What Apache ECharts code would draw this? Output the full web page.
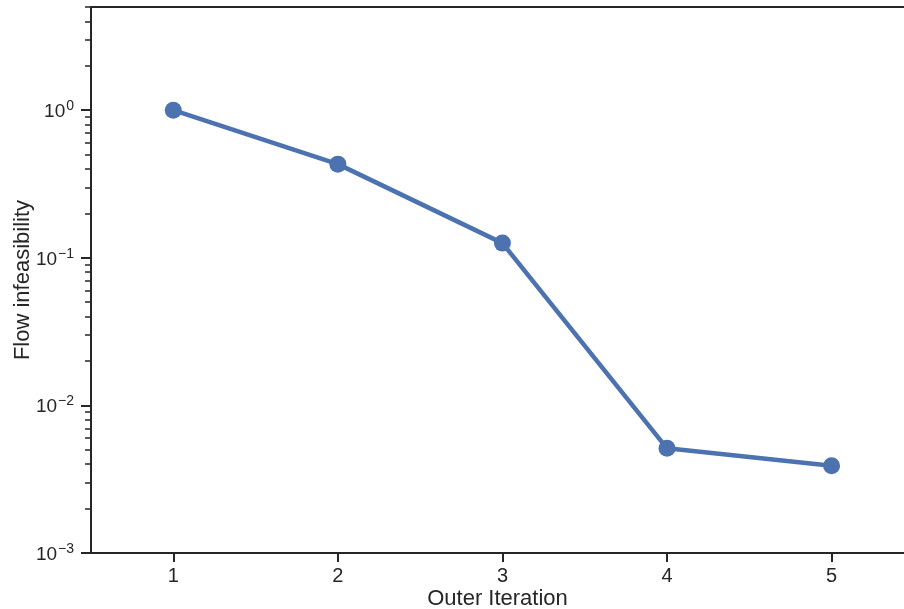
<!DOCTYPE html>
<html>
<head>
<meta charset="utf-8">
<script src="https://cdn.jsdelivr.net/npm/echarts@6/dist/echarts.min.js"></script>
<style>
html,body{margin:0;padding:0;background:#fff;}
#chart{width:904px;height:609px;}
</style>
</head>
<body>
<div id="chart"></div>
<script>
const iterations = [1, 2, 3, 4, 5];
const infeasibility = [1.0, 0.431, 0.1257, 0.00512, 0.0039];
const majorTicks = [0.001, 0.01, 0.1, 1];
const minorTicks = [
  0.002, 0.003, 0.004, 0.005, 0.006, 0.007, 0.008, 0.009,
  0.02, 0.03, 0.04, 0.05, 0.06, 0.07, 0.08, 0.09,
  0.2, 0.3, 0.4, 0.5, 0.6, 0.7, 0.8, 0.9,
  2, 3, 4, 5
];
const xTicks = [1, 2, 3, 4, 5];
const xLabel = 'Outer Iteration';
const yLabel = 'Flow infeasibility';

const FONT = '"Liberation Sans", Arial, sans-serif';
const INK = '#262626';
const BLUE = '#4c72b0';

function powLabel(v) {
  const e = Math.round(Math.log10(v));
  const s = e < 0 ? '\u2212' + (-e) : String(e);
  return '{base|10}{sup|' + s + '}';
}

const chart = echarts.init(document.getElementById('chart'), null, {renderer: 'canvas'});
chart.setOption({
  animation: false,
  backgroundColor: '#fff',
  grid: {left: 91, right: 0, top: 7, bottom: 56, containLabel: false, outerBoundsMode: 'none'},
  xAxis: [{
    type: 'value', min: 0.5, max: 5.44, position: 'bottom',
    name: xLabel, nameLocation: 'middle', nameGap: 35, nameMoveOverlap: false,
    nameTextStyle: {fontFamily: FONT, fontSize: 22, color: INK},
    axisLine: {show: true, onZero: false, lineStyle: {color: INK, width: 2}},
    axisTick: {show: true, length: 9, lineStyle: {color: INK, width: 2}, customValues: xTicks},
    axisLabel: {fontFamily: FONT, fontSize: 20, color: INK, margin: 13, customValues: xTicks},
    splitLine: {show: false}
  }, {
    type: 'value', min: 0.5, max: 5.44, position: 'top',
    axisLine: {show: true, onZero: false, lineStyle: {color: INK, width: 2}},
    axisTick: {show: false}, axisLabel: {show: false}, splitLine: {show: false}
  }],
  yAxis: [{
    type: 'log', logBase: 10, min: 0.001, max: 5, position: 'left',
    name: yLabel, nameLocation: 'middle', nameGap: 57, nameMoveOverlap: false,
    nameTextStyle: {fontFamily: FONT, fontSize: 22, color: INK},
    axisLine: {show: true, onZero: false, lineStyle: {color: INK, width: 2}},
    axisTick: {show: true, length: 10, lineStyle: {color: INK, width: 2}, customValues: majorTicks},
    axisLabel: {
      color: INK, margin: 17,
      customValues: majorTicks,
      formatter: powLabel,
      rich: {
        base: {fontFamily: FONT, fontSize: 19, color: INK, lineHeight: 22, verticalAlign: 'bottom'},
        sup: {fontFamily: FONT, fontSize: 14, color: INK, lineHeight: 22, verticalAlign: 'top', padding: [0, 0, 8, 1]}
      }
    },
    splitLine: {show: false}
  }, {
    type: 'log', logBase: 10, min: 0.001, max: 5, position: 'left',
    axisLine: {show: false},
    axisTick: {show: true, length: 6, lineStyle: {color: INK, width: 1.5}, customValues: minorTicks},
    axisLabel: {show: false},
    splitLine: {show: false}
  }],
  series: [{
    type: 'line',
    data: iterations.map((x, i) => [x, infeasibility[i]]),
    xAxisIndex: 0, yAxisIndex: 0,
    symbol: 'circle', symbolSize: 17,
    lineStyle: {color: BLUE, width: 4.5},
    itemStyle: {color: BLUE},
    z: 5
  }]
});
</script>
</body>
</html>
